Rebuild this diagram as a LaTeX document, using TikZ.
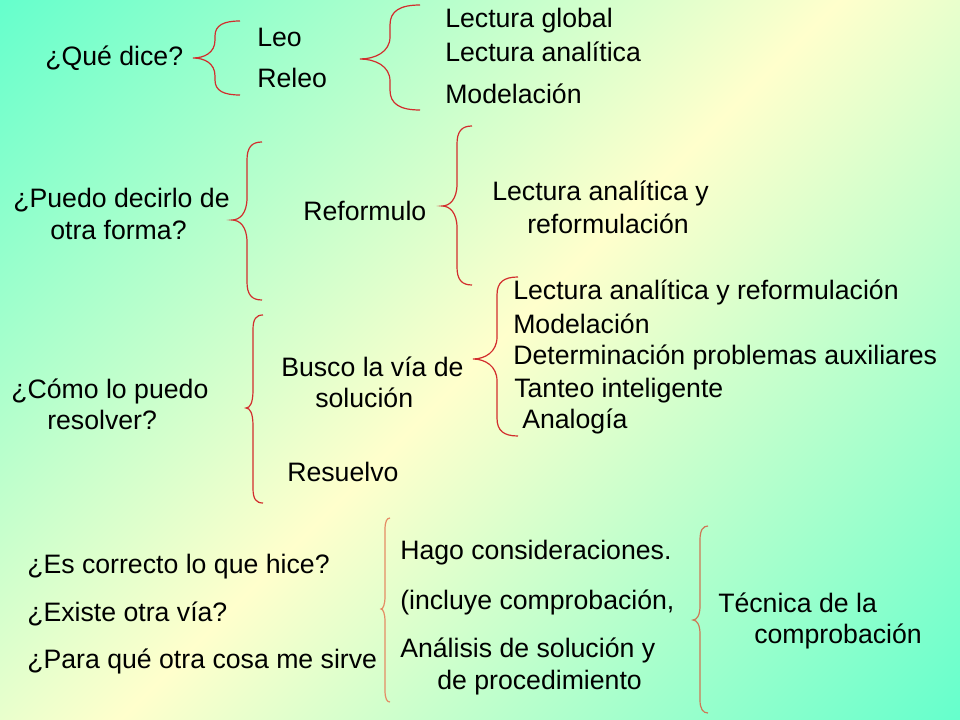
\documentclass[tikz,border=0pt]{standalone}
\usepackage{tikz}
\usepackage{xcolor}
\usepackage{fontspec}
\setmainfont{Liberation Sans}

\definecolor{bgaqua}{RGB}{102,255,204}
\definecolor{bgyellow}{RGB}{255,255,204}
\definecolor{bracered}{RGB}{210,45,45}
\definecolor{bracesalmon}{RGB}{228,140,100}
\definecolor{bracebrown}{RGB}{205,120,85}

\pgfdeclareverticalshading{slidebg}{100bp}{color(0bp)=(bgaqua); color(14.64bp)=(bgaqua); color(50bp)=(bgyellow); color(85.36bp)=(bgaqua); color(100bp)=(bgaqua)}

\begin{document}
\begin{tikzpicture}[x=0.75pt,y=0.75pt,yscale=-1,xscale=1,
  txt/.style={anchor=base west, inner sep=0.75pt, font=\fontsize{20}{24}\selectfont},
  brace/.style={draw=bracered, line width=0.9}]
\useasboundingbox (0,0) rectangle (960,720);

%Background
\shade [shading=slidebg, shading angle=45] (0,0) rectangle (960,720);

%Shape: Left Brace (que dice)
\draw [brace] (240,21) .. controls (224,21) and (215,25) .. (215,36) -- (215,40) .. controls (215,53) and (204,58) .. (193,58) .. controls (204,58) and (215,63) .. (215,76) -- (215,80) .. controls (215,91) and (224,95) .. (240,95) ;
%Shape: Left Brace (leo, releo)
\draw [brace] (420,5) .. controls (400,5) and (390,11) .. (390,25) -- (390,37) .. controls (390,52) and (375,59) .. (360,59) .. controls (375,59) and (390,66) .. (390,81) -- (390,90) .. controls (390,104) and (400,110) .. (420,110) ;
%Shape: Left Brace (puedo decirlo)
\draw [brace] (262,142) .. controls (252,142) and (247,147) .. (247,160) -- (247,198) .. controls (247,213) and (240,220) .. (232,220) .. controls (240,220) and (247,227) .. (247,242) -- (247,282) .. controls (247,295) and (252,300) .. (262,300) ;
%Shape: Left Brace (reformulo)
\draw [brace] (472,126) .. controls (462,126) and (457,131) .. (457,144) -- (457,184) .. controls (457,199) and (450,206) .. (442,206) .. controls (450,206) and (457,213) .. (457,228) -- (457,267) .. controls (457,280) and (462,285) .. (472,285) ;
%Shape: Left Brace (busco)
\draw [brace] (518,277) .. controls (504,277) and (497,282) .. (497,295) -- (497,337) .. controls (497,352) and (485,359) .. (473,359) .. controls (485,359) and (497,366) .. (497,381) -- (497,418) .. controls (497,431) and (504,436) .. (518,436) ;
%Shape: Left Brace (como)
\draw [brace] (263,315) .. controls (256,315) and (253,319) .. (253,330) -- (253,390) .. controls (253,403) and (250,408) .. (246,408) .. controls (250,408) and (253,413) .. (253,426) -- (253,488) .. controls (253,499) and (256,503) .. (263,503) ;
%Shape: Left Brace (preguntas)
\draw [brace, draw=bracesalmon] (390,518) .. controls (387,518) and (385,521) .. (385,530) -- (385,596) .. controls (385,605) and (383,609) .. (381,609) .. controls (383,609) and (385,613) .. (385,622) -- (385,690) .. controls (385,699) and (387,702) .. (390,702) ;
%Shape: Left Brace (tecnica)
\draw [brace, draw=bracebrown] (708,526) .. controls (703,526) and (700,530) .. (700,540) -- (700,606) .. controls (700,615) and (697,620) .. (693,620) .. controls (697,620) and (700,625) .. (700,634) -- (700,700) .. controls (700,709) and (703,713) .. (708,713) ;

% Text Node
\draw (44,66) node [txt] (qdice) {¿Qué dice?};
% Text Node
\draw (256,47) node [txt] (leo) {Leo};
% Text Node
\draw (256,88) node [txt] (releo) {Releo};
% Text Node
\draw (444,28) node [txt] (lglobal) {Lectura global};
% Text Node
\draw (444,62) node [txt] (lanalitica) {Lectura analítica};
% Text Node
\draw (444,104) node [txt] (modela) {Modelación};
% Text Node
\draw (12,208) node [txt] (puedo1) {¿Puedo decirlo de};
% Text Node
\draw (49,240) node [txt] (puedo2) {otra forma?};
% Text Node
\draw (302,221) node [txt] (reformulo) {Reformulo};
% Text Node
\draw (491,201) node [txt] (lanref1) {Lectura analítica y};
% Text Node
\draw (526,234) node [txt] (lanref2) {reformulación};
% Text Node
\draw (512,300) node [txt] (lref) {Lectura analítica y reformulación};
% Text Node
\draw (512,333) node [txt] (modelb) {Modelación};
% Text Node
\draw (512,364) node [txt] (determ) {Determinación problemas auxiliares};
% Text Node
\draw (513,397) node [txt] (tanteo) {Tanteo inteligente};
% Text Node
\draw (521,428) node [txt] (analogia) {Analogía};
% Text Node
\draw (280,376) node [txt] (busco1) {Busco la vía de};
% Text Node
\draw (314,407) node [txt] (busco2) {solución};
% Text Node
\draw (10,398) node [txt] (como1) {¿Cómo lo puedo};
% Text Node
\draw (46,429) node [txt] (como2) {resolver?};
% Text Node
\draw (286,481) node [txt] (resuelvo) {Resuelvo};
% Text Node
\draw (26,573) node [txt] (correcto) {¿Es correcto lo que hice?};
% Text Node
\draw (26,621) node [txt] (existe) {¿Existe otra vía?};
% Text Node
\draw (26,668) node [txt] (paraque) {¿Para qué otra cosa me sirve};
% Text Node
\draw (399,559) node [txt] (hago) {Hago consideraciones.};
% Text Node
\draw (399,609) node [txt] (incluye) {(incluye comprobación,};
% Text Node
\draw (399,657) node [txt] (analisis1) {Análisis de solución y};
% Text Node
\draw (436,689) node [txt] (analisis2) {de procedimiento};
% Text Node
\draw (717,612) node [txt] (tecnica1) {Técnica de la};
% Text Node
\draw (753,643) node [txt] (tecnica2) {comprobación};

\end{tikzpicture}
\end{document}
